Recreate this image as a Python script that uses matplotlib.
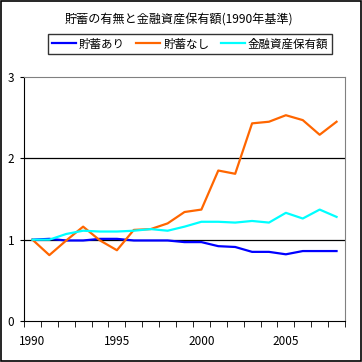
import matplotlib
matplotlib.use('Agg')
import matplotlib.pyplot as plt
import numpy as np

plt.rcParams['font.family'] = ['Noto Sans CJK JP', 'DejaVu Sans']

years = list(range(1990, 2009))
with_savings = [1.00, 1.01, 0.99, 0.99, 1.01, 1.01, 0.99, 0.99, 0.99, 0.97,
                0.97, 0.92, 0.91, 0.85, 0.85, 0.82, 0.86, 0.86, 0.86]
no_savings = [1.00, 0.81, 0.99, 1.16, 0.99, 0.87, 1.12, 1.13, 1.20, 1.34,
              1.37, 1.85, 1.81, 2.43, 2.45, 2.53, 2.47, 2.29, 2.45]
fin_assets = [1.00, 1.00, 1.07, 1.11, 1.10, 1.10, 1.11, 1.13, 1.11, 1.16,
              1.22, 1.22, 1.21, 1.23, 1.21, 1.33, 1.26, 1.37, 1.28]
series_names = ['貯蓄あり', '貯蓄なし', '金融資産保有額']
colors = ['#0000ff', '#ff6600', '#00ffff']
title = '貯蓄の有無と金融資産保有額(1990年基準)'

fig = plt.figure(figsize=(3.62, 3.62), dpi=100)
ax = fig.add_axes([24/362, 1 - 321/362, 321/362, 244/362])

x = np.arange(len(years))
for vals, name, c in zip([with_savings, no_savings, fin_assets], series_names, colors):
    ax.plot(x, vals, color=c, lw=1.6, label=name, zorder=3)

ax.set_xlim(-0.5, len(years) - 0.5)
ax.set_ylim(0, 3)
ax.set_yticks([0, 1, 2, 3])
ax.set_yticklabels(['0', '1', '2', '3'], fontsize=8.5)
for yv in [1, 2]:
    ax.axhline(yv, color='black', lw=0.9, zorder=2)

ax.set_xticks(x[::5])
ax.set_xticklabels([str(y) for y in years[::5]], fontsize=8.5)
ax.set_xticks(np.arange(-0.5, len(years), 1), minor=True)
ax.tick_params(axis='x', which='major', length=0, pad=10)
ax.tick_params(axis='x', which='minor', length=4, direction='out')
ax.tick_params(axis='y', length=3, pad=4)

ax.spines['top'].set_color('gray')
ax.spines['right'].set_color('gray')
ax.spines['left'].set_color('black')
ax.spines['bottom'].set_color('black')

fig.text(179/362, 1 - 20/362, title, ha='center', va='center', fontsize=8.7)
leg = fig.legend(loc='center', bbox_to_anchor=(190/362, 1 - 44/362), ncol=3,
                 fontsize=8.3, frameon=True, fancybox=False, edgecolor='black',
                 handlelength=2.1, handletextpad=0.25, columnspacing=1.0,
                 borderpad=0.3, borderaxespad=0)
leg.get_frame().set_linewidth(1.0)

fig.patches.append(plt.Rectangle((0.002, 0.002), 0.995, 0.995, transform=fig.transFigure,
                                 fill=False, edgecolor='black', lw=1.2))

fig.savefig('out.png', dpi=100)
